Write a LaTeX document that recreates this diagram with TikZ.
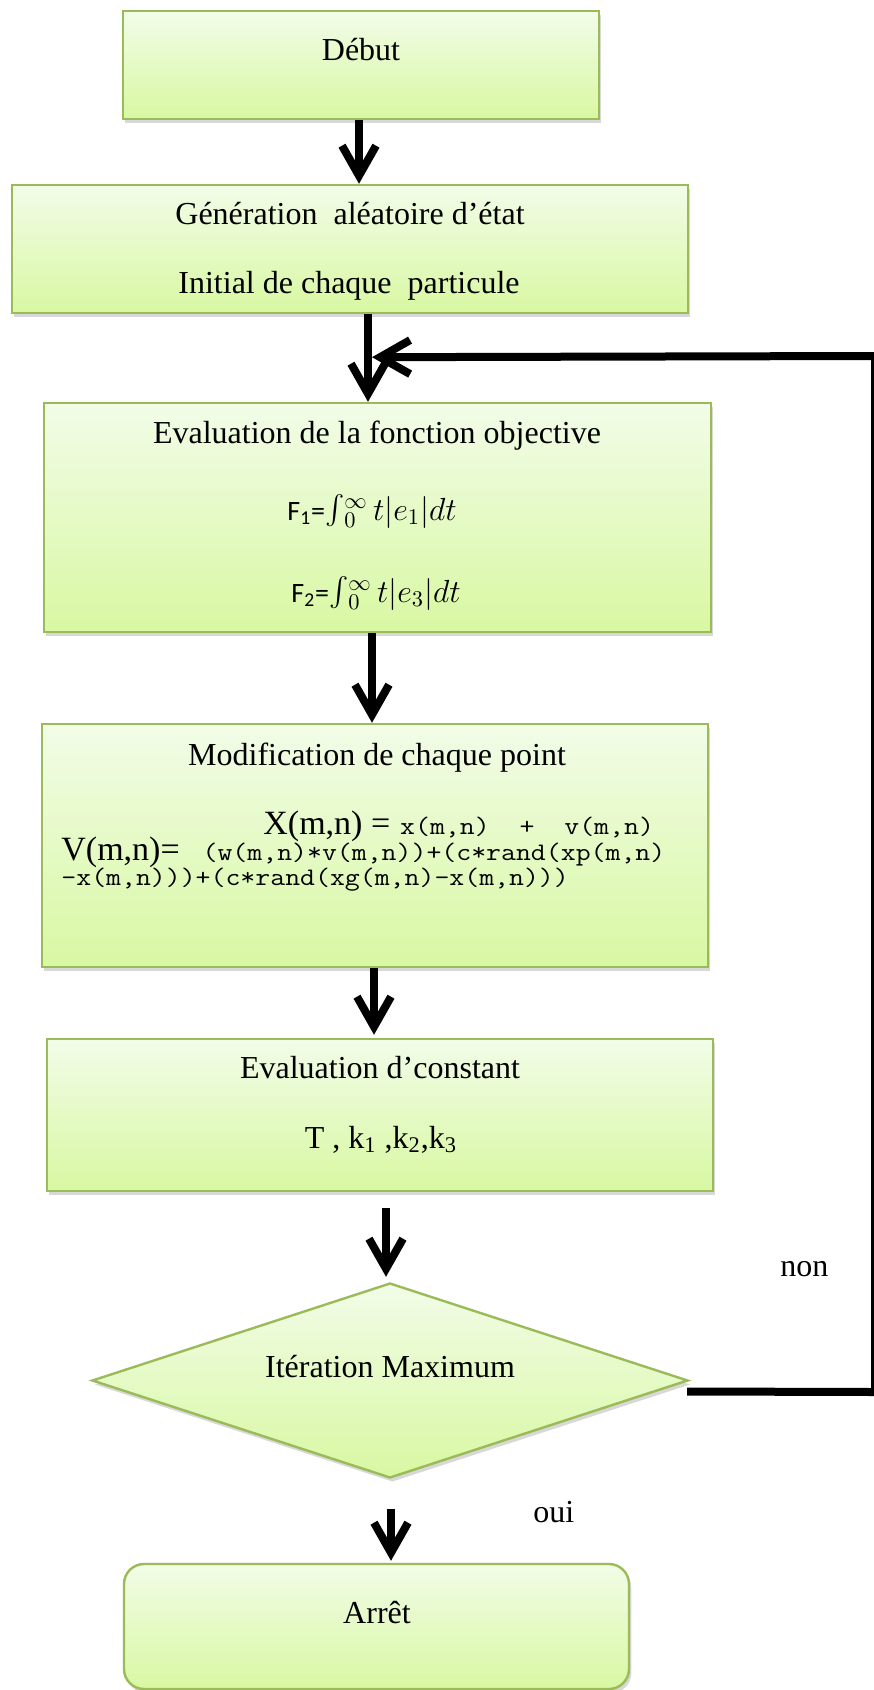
\RequirePackage{fix-cm}
\documentclass[tikz,border=0pt]{standalone}
\usepackage{fontspec}
\setmainfont{Liberation Serif}
\newfontfamily\sansf{Carlito}
\newcommand{\monotxt}[1]{\scalebox{1.15}[1]{\ttfamily\fontsize{12.6}{15}\selectfont #1}}
\newcommand{\bigintg}{\raisebox{-0.15ex}{\scalebox{1.45}{$\int$}}}
\usetikzlibrary{shapes.geometric,arrows.meta,shadows,fit,calc}
\definecolor{bordergreen}{HTML}{9BBB59}
\definecolor{topgreen}{HTML}{F2FCE8}
\definecolor{botgreen}{HTML}{D8F8A2}
\begin{document}
\begin{tikzpicture}[x=0.5pt,y=-0.5pt,
  box/.style={draw=bordergreen, line width=1.2pt, top color=topgreen, bottom color=botgreen,
    inner sep=0pt, drop shadow={shadow xshift=1.2pt,shadow yshift=-2pt,opacity=0.3}},
  txt/.style={font=\fontsize{16}{19}\selectfont, inner sep=0pt, anchor=base},
  arr/.style={line width=4pt, -{Straight Barb[length=15pt,width=17pt]}},
]
\path[use as bounding box, fill=white] (0,0) rectangle (873,1690);

% boxes
\node[box, fit={(123,11) (599,119)}] (debut) {};
\node[box, fit={(12,185) (688,313)}] (gen) {};
\node[box, fit={(44,403) (711,632)}] (eval) {};
\node[box, fit={(42,724) (708,967)}] (mod) {};
\node[box, fit={(47,1039) (713,1191)}] (const) {};
\node[box, diamond, minimum width=298pt, minimum height=97.5pt] (dia) at (390,1380.5) {};
\node[box, rounded corners=10pt, fit={(124,1564) (629,1689)}] (arret) {};

% texts
\node[txt] (tdebut) at (361,61) {Début};
\node[txt] (tgen1) at (350,225) {Génération\ \ aléatoire d’état};
\node[txt] (tgen2) at (349,294) {Initial de chaque\ \ particule};
\node[txt] (teval) at (377,443) {Evaluation de la fonction objective};
\node[txt, font=\fontsize{16}{19}\selectfont] (tf1) at (372,520) {{\sansf\fontsize{14}{16}\selectfont F\textsubscript{1}=}\bigintg${}_{0}^{\infty}\,t|e_1|dt$};
\node[txt, font=\fontsize{16}{19}\selectfont] (tf2) at (376,602) {{\sansf\fontsize{14}{16}\selectfont F\textsubscript{2}=}\bigintg${}_{0}^{\infty}\,t|e_3|dt$};
\node[txt] (tmod) at (377,765) {Modification de chaque point};
\node[txt, anchor=base west] (tx) at (263,834) {{\fontsize{17}{20}\selectfont X(m,n) =}\hspace{5pt}\monotxt{x(m,n)\ \ +\ \ v(m,n)}};
\node[txt, anchor=base west] (tv1) at (61,860) {{\fontsize{17}{20}\selectfont V(m,n)=}\hspace{4pt}\monotxt{\ (w(m,n)*v(m,n))+(c*rand(xp(m,n)}};
\node[txt, anchor=base west] (tv2) at (61,885) {\monotxt{-x(m,n)))+(c*rand(xg(m,n)-x(m,n)))}};
\node[txt] (tconst) at (380,1078) {Evaluation d’constant};
\node[txt] (tk) at (381,1148) {T , k\textsubscript{1} ,k\textsubscript{2},k\textsubscript{3}};
\node[txt] (tdia) at (390,1377) {Itération Maximum};
\node[txt, anchor=base west] (tnon) at (780,1276) {non};
\node[txt, anchor=base west] (toui) at (533,1522) {oui};
\node[txt] (tarret) at (377,1623) {Arrêt};

% connectors
\draw[arr] ($(debut.south)+(-2,0)$) -- ($(debut.south |- gen.north)+(-2,0)$);
\draw[arr] ($(gen.south)+(18,0)$) -- ($(eval.north)+(-9.5,0)$);
\draw[arr] ($(eval.south)+(-5.5,0)$) -- ($(mod.north)+(-3,0)$);
\draw[arr] ($(mod.south)+(-1,0)$) -- ($(const.north)+(-6,-3)$);
\draw[arr] ($(const.south)+(6,16)$) -- ($(dia.north)+(-4,-5)$);
\draw[arr] ($(dia.south)+(1,30)$) -- ($(arret.north)+(14.5,-2)$);

% loop back (non)
\coordinate (c1) at (875,1392);
\coordinate (c2) at (875,356);
\coordinate (j) at ($(gen.south)+(22,43)$);
\draw[arr] ($(dia.east)+(-2,11)$) -- (c1) -- (c2) -- (j);
\end{tikzpicture}
\end{document}
